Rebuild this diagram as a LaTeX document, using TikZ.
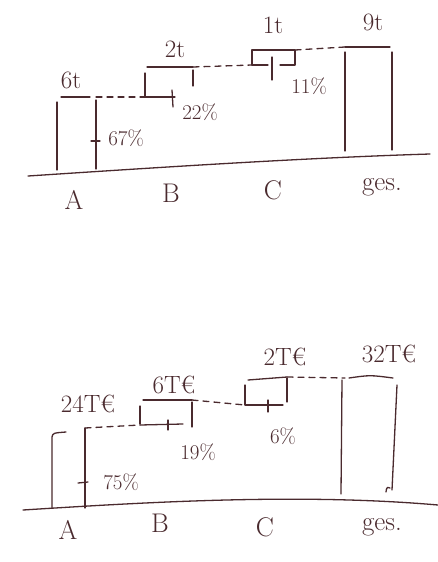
\documentclass[tikz,border=0pt]{standalone}
\usepackage{fontspec}
\begin{document}
\begin{tikzpicture}[x=1pt,y=-1pt,
  ink/.style={draw=inkc,line width=1.3pt,line cap=round,line join=round},
  conn/.style={ink,dashed,dash pattern=on 6pt off 5pt},
  lbl/.style={text=inkc,font=\fontsize{25}{28}\selectfont,inner sep=1pt},
  pct/.style={text=inkc,font=\fontsize{21}{24}\selectfont,inner sep=1pt},
  axl/.style={text=inkc,font=\fontsize{27}{30}\selectfont,inner sep=1pt}]
\definecolor{inkc}{HTML}{4A2A2E}
\useasboundingbox (0,0) rectangle (438,562);
\fill[white] (0,0) rectangle (438,562);

% ================= top chart =================
\draw[ink] (28,176) .. controls (150,168) and (300,158) .. (430,154);
% bar A
\coordinate (Atl) at (57,97); \coordinate (Atr) at (96,97);
\draw[ink] (57,102) -- (57,170);
\draw[ink] (96,100) -- (96,169);
\draw[ink] (61,97) -- (90,97);
\draw[ink] (91,141) -- (100,141);
% bar B
\coordinate (Bbl) at (145,97); \coordinate (Btr) at (193,67);
\draw[ink] (147,67) -- (193,67);
\draw[ink] (145,73) -- (145,97) -- (175,97);
\draw[ink] (193,70) -- (193,86);
\draw[ink] (172,90) -- (173,107);
% bar C
\coordinate (Cbl) at (252,65); \coordinate (Ctr) at (295,50);
\draw[ink] (252,65) -- (252,50) -- (295,50) -- (295,65) -- (280,65);
\draw[ink] (252,65) -- (268,65);
\draw[ink] (272,57) -- (272,80);
% bar ges
\coordinate (Gtl) at (345,47);
\draw[ink] (345,47) -- (390,47);
\draw[ink] (345,52) -- (345,151);
\draw[ink] (392,52) -- (392,150);
% connectors
\draw[conn] (Atr) -- (Bbl);
\draw[conn] (Btr) -- (Cbl);
\draw[conn] (Ctr) -- (Gtl);
% labels
\node[lbl] (lA1) at (71,80) {6t};
\node[lbl] (lB1) at (175,49) {2t};
\node[lbl] (lC1) at (273,25) {1t};
\node[lbl] (lG1) at (373,22) {9t};
\node[pct] (pA1) at (126,138) {67\%};
\node[pct] (pB1) at (200,112) {22\%};
\node[pct] (pC1) at (309,86) {11\%};
\node[axl] (xA1) at (74,200) {A};
\node[axl] (xB1) at (171,193) {B};
\node[axl] (xC1) at (273,190) {C};
\node[axl] (xG1) at (382,187) {ges.};

% ================= bottom chart =================
\draw[ink] (23,510) .. controls (150,502) and (300,493) .. (438,505);
% bar A
\coordinate (Atl2) at (52,435); \coordinate (Atr2) at (85,428);
\draw[ink] (52,508) -- (52,437) .. controls (53,433) .. (66,432);
\draw[ink] (85,428) -- (85,508);
\draw[ink] (78,483) -- (88,482);
% bar B
\coordinate (Bbl2) at (140,425); \coordinate (Btr2) at (192,400);
\draw[ink] (143,400) -- (192,400);
\draw[ink] (140,406) -- (140,424);
\draw[ink] (192,402) -- (192,427);
\draw[ink] (140,425) -- (183,424);
\draw[ink] (168,420) -- (168,430);
% bar C
\coordinate (Cbl2) at (245,405); \coordinate (Ctr2) at (287,377);
\draw[ink] (248,380) -- (287,377);
\draw[ink] (245,385) -- (245,405) -- (283,405);
\draw[ink] (287,378) -- (287,402);
\draw[ink] (268,400) -- (268,412);
% bar ges
\coordinate (Gtl2) at (345,378);
\draw[ink] (349,378) .. controls (370,375) .. (393,378);
\draw[ink] (342,380) -- (341,494);
\draw[ink] (397,385) -- (392,490);
\draw[ink] (386,492) .. controls (386,487) and (389,486) .. (390,488);
% connectors
\draw[conn] (Atr2) -- (Bbl2);
\draw[conn] (Btr2) -- (Cbl2);
\draw[conn] (Ctr2) -- (Gtl2);
% labels
\node[lbl] (lA2) at (88,404) {24T€};
\node[lbl] (lB2) at (174,385) {6T€};
\node[lbl] (lC2) at (285,357) {2T€};
\node[lbl] (lG2) at (389,354) {32T€};
\node[pct] (pA2) at (121,482) {75\%};
\node[pct] (pB2) at (198,452) {19\%};
\node[pct] (pC2) at (283,436) {6\%};
\node[axl] (xA2) at (68,530) {A};
\node[axl] (xB2) at (160,523) {B};
\node[axl] (xC2) at (265,527) {C};
\node[axl] (xG2) at (382,527) {ges.};
\end{tikzpicture}
\end{document}
